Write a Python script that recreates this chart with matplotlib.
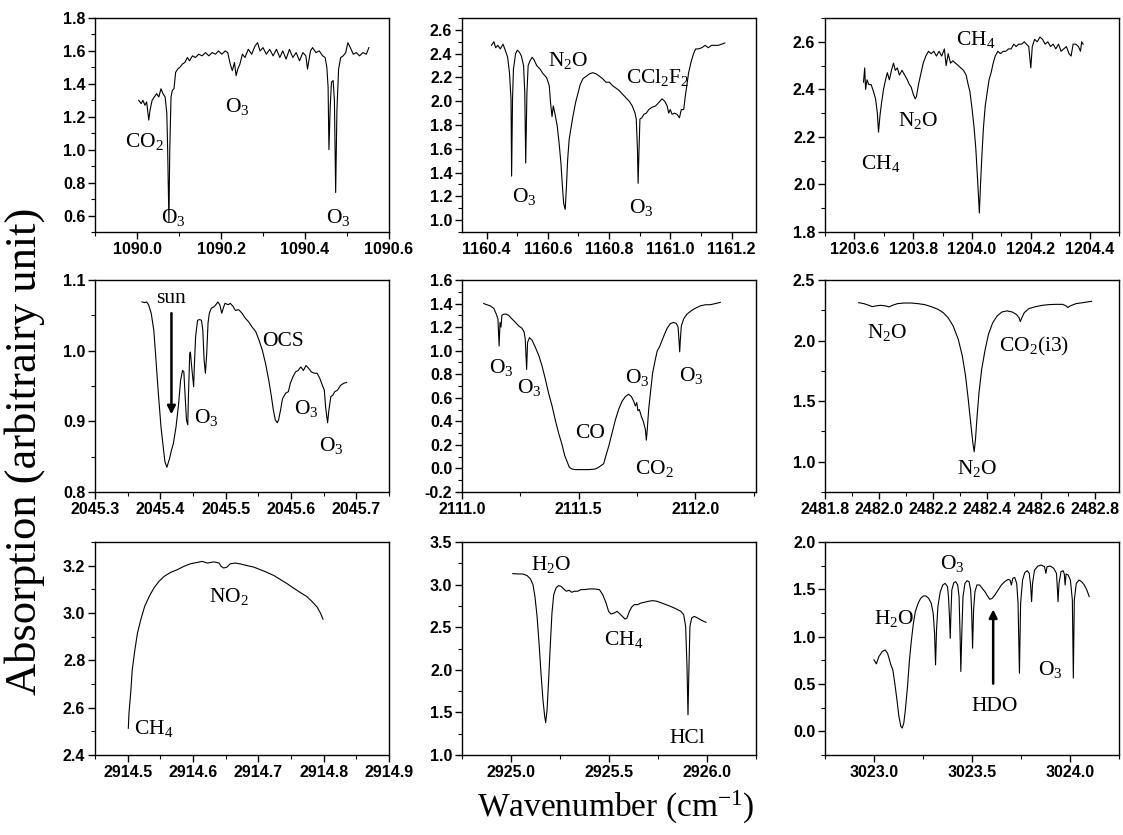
import numpy as np
import matplotlib
matplotlib.use("Agg")
import matplotlib.pyplot as plt
from matplotlib.ticker import MultipleLocator, AutoMinorLocator, FormatStrFormatter

# ---- spectra (wavenumber, absorption) ----
spec_1090 = np.array([
    [1090.004, 1.30], [1090.010, 1.28], [1090.014, 1.30], [1090.019, 1.27], [1090.023, 1.29],
    [1090.028, 1.18], [1090.031, 1.24], [1090.036, 1.30], [1090.041, 1.32], [1090.047, 1.34],
    [1090.052, 1.32], [1090.057, 1.37], [1090.062, 1.34], [1090.067, 1.32], [1090.071, 1.22],
    [1090.073, 1.00], [1090.076, 0.56], [1090.078, 1.00], [1090.081, 1.32], [1090.084, 1.36],
    [1090.088, 1.37], [1090.092, 1.47], [1090.097, 1.49], [1090.102, 1.50], [1090.108, 1.52],
    [1090.114, 1.53], [1090.120, 1.56], [1090.125, 1.54], [1090.132, 1.57], [1090.139, 1.56],
    [1090.147, 1.58], [1090.155, 1.57], [1090.163, 1.59], [1090.171, 1.57], [1090.179, 1.59],
    [1090.187, 1.58], [1090.194, 1.60], [1090.202, 1.58], [1090.210, 1.60], [1090.216, 1.59],
    [1090.222, 1.52], [1090.227, 1.48], [1090.232, 1.53], [1090.236, 1.45], [1090.240, 1.49],
    [1090.245, 1.52], [1090.251, 1.58], [1090.257, 1.56], [1090.265, 1.61], [1090.273, 1.58],
    [1090.281, 1.63], [1090.287, 1.65], [1090.293, 1.60], [1090.300, 1.62], [1090.308, 1.58],
    [1090.316, 1.61], [1090.324, 1.57], [1090.332, 1.61], [1090.340, 1.56], [1090.347, 1.60],
    [1090.355, 1.55], [1090.363, 1.61], [1090.371, 1.56], [1090.379, 1.59], [1090.387, 1.54],
    [1090.395, 1.59], [1090.402, 1.57], [1090.406, 1.49], [1090.413, 1.60], [1090.418, 1.62],
    [1090.426, 1.59], [1090.434, 1.60], [1090.442, 1.57], [1090.448, 1.56], [1090.452, 1.50],
    [1090.455, 1.38], [1090.457, 1.00], [1090.460, 1.26], [1090.463, 1.41], [1090.467, 1.42],
    [1090.470, 1.30], [1090.473, 0.74], [1090.476, 1.24], [1090.480, 1.49], [1090.485, 1.56],
    [1090.491, 1.57], [1090.497, 1.59], [1090.502, 1.65], [1090.508, 1.62], [1090.515, 1.58],
    [1090.522, 1.59], [1090.530, 1.57], [1090.538, 1.59], [1090.546, 1.58], [1090.552, 1.62],
])

spec_1160 = np.array([
    [1160.416, 2.47], [1160.424, 2.50], [1160.430, 2.45], [1160.437, 2.47], [1160.445, 2.44],
    [1160.454, 2.48], [1160.461, 2.43], [1160.469, 2.37], [1160.475, 2.24], [1160.480, 2.02],
    [1160.482, 1.37], [1160.485, 2.02], [1160.488, 2.27], [1160.495, 2.40], [1160.501, 2.43],
    [1160.508, 2.41], [1160.514, 2.38], [1160.521, 2.30], [1160.525, 2.07], [1160.528, 1.48],
    [1160.532, 2.07], [1160.536, 2.30], [1160.542, 2.34], [1160.549, 2.37], [1160.555, 2.35],
    [1160.564, 2.30], [1160.575, 2.27], [1160.585, 2.23], [1160.596, 2.20], [1160.605, 2.13],
    [1160.609, 1.99], [1160.614, 1.87], [1160.618, 1.96], [1160.624, 1.89], [1160.631, 1.79],
    [1160.637, 1.65], [1160.643, 1.48], [1160.648, 1.28], [1160.652, 1.14], [1160.657, 1.09],
    [1160.661, 1.28], [1160.665, 1.51], [1160.670, 1.68], [1160.675, 1.76], [1160.682, 1.87],
    [1160.691, 1.99], [1160.699, 2.07], [1160.706, 2.14], [1160.715, 2.19], [1160.726, 2.21],
    [1160.736, 2.23], [1160.747, 2.24], [1160.758, 2.23], [1160.769, 2.21], [1160.779, 2.19],
    [1160.790, 2.16], [1160.801, 2.16], [1160.812, 2.13], [1160.823, 2.11], [1160.833, 2.09],
    [1160.844, 2.06], [1160.855, 2.03], [1160.866, 2.00], [1160.876, 1.96], [1160.885, 1.90],
    [1160.889, 1.85], [1160.893, 1.59], [1160.895, 1.31], [1160.898, 1.59], [1160.901, 1.85],
    [1160.907, 1.86], [1160.914, 1.89], [1160.922, 1.90], [1160.930, 1.93], [1160.941, 1.95],
    [1160.952, 1.96], [1160.963, 1.99], [1160.973, 2.02], [1160.982, 2.00], [1160.990, 1.96],
    [1160.995, 1.90], [1161.000, 1.93], [1161.006, 1.89], [1161.014, 1.90], [1161.022, 1.89],
    [1161.030, 1.86], [1161.036, 1.93], [1161.044, 1.93], [1161.049, 2.04], [1161.054, 2.13],
    [1161.060, 2.24], [1161.068, 2.33], [1161.076, 2.40], [1161.083, 2.44], [1161.092, 2.44],
    [1161.103, 2.45], [1161.114, 2.47], [1161.124, 2.45], [1161.135, 2.47], [1161.146, 2.47],
    [1161.157, 2.47], [1161.168, 2.48], [1161.178, 2.49],
])

spec_1204 = np.array([
    [1203.631, 2.43], [1203.635, 2.49], [1203.638, 2.40], [1203.643, 2.44], [1203.649, 2.42],
    [1203.657, 2.42], [1203.665, 2.39], [1203.672, 2.36], [1203.678, 2.30], [1203.682, 2.22],
    [1203.687, 2.29], [1203.692, 2.34], [1203.699, 2.40], [1203.706, 2.44], [1203.712, 2.47],
    [1203.719, 2.44], [1203.726, 2.48], [1203.733, 2.51], [1203.739, 2.48], [1203.746, 2.49],
    [1203.753, 2.46], [1203.762, 2.48], [1203.771, 2.46], [1203.780, 2.44], [1203.787, 2.42],
    [1203.793, 2.41], [1203.800, 2.38], [1203.807, 2.36], [1203.811, 2.37], [1203.818, 2.42],
    [1203.825, 2.46], [1203.834, 2.51], [1203.843, 2.54], [1203.852, 2.56], [1203.861, 2.55],
    [1203.870, 2.56], [1203.879, 2.54], [1203.888, 2.56], [1203.897, 2.54], [1203.906, 2.57],
    [1203.912, 2.50], [1203.919, 2.55], [1203.927, 2.51], [1203.935, 2.52], [1203.944, 2.51],
    [1203.953, 2.50], [1203.962, 2.49], [1203.971, 2.48], [1203.980, 2.46], [1203.987, 2.42],
    [1203.993, 2.39], [1204.000, 2.32], [1204.007, 2.24], [1204.013, 2.15], [1204.019, 2.02],
    [1204.025, 1.88], [1204.029, 2.00], [1204.034, 2.13], [1204.039, 2.24], [1204.045, 2.33],
    [1204.052, 2.39], [1204.058, 2.44], [1204.065, 2.47], [1204.072, 2.51], [1204.079, 2.54],
    [1204.088, 2.56], [1204.097, 2.55], [1204.106, 2.56], [1204.115, 2.56], [1204.124, 2.57],
    [1204.133, 2.57], [1204.142, 2.59], [1204.150, 2.58], [1204.159, 2.59], [1204.169, 2.59],
    [1204.178, 2.60], [1204.185, 2.59], [1204.193, 2.58], [1204.200, 2.49], [1204.205, 2.58],
    [1204.213, 2.61], [1204.222, 2.60], [1204.231, 2.62], [1204.240, 2.61], [1204.249, 2.59],
    [1204.258, 2.60], [1204.267, 2.58], [1204.276, 2.59], [1204.285, 2.57], [1204.294, 2.59],
    [1204.303, 2.56], [1204.312, 2.57], [1204.321, 2.58], [1204.330, 2.55], [1204.337, 2.54],
    [1204.344, 2.59], [1204.353, 2.59], [1204.362, 2.58], [1204.369, 2.56], [1204.373, 2.60],
    [1204.378, 2.59],
])

spec_2045 = np.array([
    [2045.372, 1.069], [2045.376, 1.068], [2045.379, 1.069], [2045.382, 1.065], [2045.386, 1.053],
    [2045.390, 1.029], [2045.393, 0.991], [2045.397, 0.939], [2045.401, 0.892], [2045.405, 0.859],
    [2045.407, 0.843], [2045.410, 0.835], [2045.414, 0.847], [2045.417, 0.859], [2045.420, 0.869],
    [2045.424, 0.892], [2045.428, 0.925], [2045.431, 0.958], [2045.434, 0.972], [2045.436, 0.970],
    [2045.438, 0.935], [2045.440, 0.902], [2045.442, 0.895], [2045.443, 0.935], [2045.445, 0.996],
    [2045.446, 0.998], [2045.448, 0.977], [2045.451, 0.949], [2045.452, 0.977], [2045.454, 1.020],
    [2045.457, 1.043], [2045.460, 1.044], [2045.463, 1.043], [2045.465, 1.029], [2045.467, 0.987],
    [2045.469, 0.968], [2045.471, 0.996], [2045.473, 1.039], [2045.475, 1.053], [2045.478, 1.060],
    [2045.482, 1.062], [2045.485, 1.065], [2045.488, 1.069], [2045.491, 1.065], [2045.494, 1.053],
    [2045.497, 1.062], [2045.499, 1.067], [2045.504, 1.065], [2045.507, 1.067], [2045.511, 1.063],
    [2045.515, 1.057], [2045.520, 1.058], [2045.525, 1.053], [2045.530, 1.046], [2045.535, 1.041],
    [2045.540, 1.034], [2045.546, 1.027], [2045.551, 1.015], [2045.556, 1.001], [2045.561, 0.982],
    [2045.566, 0.958], [2045.570, 0.935], [2045.573, 0.916], [2045.576, 0.902], [2045.579, 0.898],
    [2045.581, 0.902], [2045.584, 0.916], [2045.587, 0.932], [2045.592, 0.940], [2045.596, 0.942],
    [2045.599, 0.954], [2045.603, 0.963], [2045.607, 0.970], [2045.611, 0.972], [2045.615, 0.977],
    [2045.619, 0.972], [2045.623, 0.979], [2045.627, 0.975], [2045.631, 0.970], [2045.636, 0.968],
    [2045.640, 0.968], [2045.644, 0.961], [2045.648, 0.951], [2045.651, 0.944], [2045.653, 0.920],
    [2045.656, 0.898], [2045.658, 0.916], [2045.661, 0.935], [2045.664, 0.937], [2045.667, 0.942],
    [2045.671, 0.944], [2045.676, 0.951], [2045.681, 0.954], [2045.685, 0.955],
])

spec_2111 = np.array([
    [2111.093, 1.40], [2111.107, 1.39], [2111.121, 1.38], [2111.136, 1.36], [2111.147, 1.31],
    [2111.154, 1.27], [2111.159, 1.04], [2111.163, 1.24], [2111.167, 1.20], [2111.171, 1.30],
    [2111.179, 1.31], [2111.189, 1.31], [2111.200, 1.30], [2111.214, 1.27], [2111.229, 1.24],
    [2111.243, 1.21], [2111.257, 1.19], [2111.266, 1.16], [2111.271, 1.10], [2111.277, 0.84],
    [2111.281, 1.07], [2111.289, 1.11], [2111.300, 1.09], [2111.314, 1.03], [2111.329, 0.96],
    [2111.343, 0.87], [2111.357, 0.76], [2111.371, 0.64], [2111.386, 0.53], [2111.400, 0.41],
    [2111.414, 0.30], [2111.429, 0.20], [2111.440, 0.11], [2111.450, 0.06], [2111.460, 0.01],
    [2111.471, -0.005], [2111.486, -0.01], [2111.514, -0.01], [2111.543, -0.01], [2111.571, -0.005],
    [2111.586, 0.01], [2111.600, 0.03], [2111.607, 0.04], [2111.617, 0.11], [2111.629, 0.19],
    [2111.643, 0.30], [2111.657, 0.41], [2111.671, 0.50], [2111.686, 0.57], [2111.700, 0.61],
    [2111.714, 0.63], [2111.726, 0.61], [2111.736, 0.57], [2111.743, 0.53], [2111.749, 0.56],
    [2111.754, 0.49], [2111.760, 0.50], [2111.769, 0.44], [2111.777, 0.40], [2111.786, 0.33],
    [2111.790, 0.24], [2111.794, 0.33], [2111.800, 0.50], [2111.809, 0.67], [2111.817, 0.81],
    [2111.829, 0.93], [2111.837, 1.00], [2111.846, 1.03], [2111.854, 1.07], [2111.866, 1.13],
    [2111.879, 1.19], [2111.893, 1.23], [2111.907, 1.24], [2111.919, 1.23], [2111.926, 1.20],
    [2111.930, 1.09], [2111.933, 0.99], [2111.936, 1.10], [2111.940, 1.21], [2111.950, 1.27],
    [2111.964, 1.31], [2111.983, 1.34], [2112.000, 1.36], [2112.021, 1.38], [2112.043, 1.39],
    [2112.064, 1.39], [2112.086, 1.40], [2112.107, 1.41],
])

spec_2482 = np.array([
    [2481.925, 2.313], [2481.944, 2.305], [2481.963, 2.291], [2481.975, 2.280], [2481.988, 2.286],
    [2482.006, 2.291], [2482.025, 2.286], [2482.038, 2.278], [2482.050, 2.291], [2482.069, 2.305],
    [2482.094, 2.310], [2482.119, 2.310], [2482.144, 2.305], [2482.169, 2.297], [2482.194, 2.280],
    [2482.219, 2.258], [2482.238, 2.231], [2482.256, 2.190], [2482.275, 2.121], [2482.294, 2.011],
    [2482.309, 1.874], [2482.321, 1.709], [2482.331, 1.517], [2482.340, 1.324], [2482.348, 1.159],
    [2482.353, 1.082], [2482.358, 1.187], [2482.364, 1.379], [2482.371, 1.572], [2482.381, 1.764],
    [2482.394, 1.929], [2482.406, 2.052], [2482.421, 2.143], [2482.438, 2.203], [2482.456, 2.236],
    [2482.475, 2.245], [2482.494, 2.236], [2482.509, 2.217], [2482.519, 2.190], [2482.524, 2.157],
    [2482.530, 2.190], [2482.539, 2.231], [2482.556, 2.264], [2482.581, 2.280], [2482.606, 2.291],
    [2482.631, 2.297], [2482.656, 2.299], [2482.681, 2.299], [2482.694, 2.286], [2482.700, 2.272],
    [2482.709, 2.286], [2482.731, 2.305], [2482.756, 2.313], [2482.788, 2.324],
])

spec_2914 = np.array([
    [2914.501, 2.513], [2914.502, 2.576], [2914.505, 2.675], [2914.507, 2.760], [2914.511, 2.844],
    [2914.515, 2.915], [2914.520, 2.971], [2914.526, 3.028], [2914.533, 3.070], [2914.540, 3.105],
    [2914.548, 3.134], [2914.556, 3.155], [2914.566, 3.172], [2914.576, 3.183], [2914.586, 3.197],
    [2914.596, 3.208], [2914.607, 3.214], [2914.614, 3.218], [2914.622, 3.211], [2914.632, 3.216],
    [2914.640, 3.211], [2914.643, 3.197], [2914.647, 3.190], [2914.652, 3.194], [2914.657, 3.208],
    [2914.665, 3.211], [2914.673, 3.207], [2914.683, 3.200], [2914.693, 3.194], [2914.703, 3.183],
    [2914.713, 3.172], [2914.724, 3.158], [2914.734, 3.141], [2914.744, 3.124], [2914.754, 3.105],
    [2914.764, 3.087], [2914.774, 3.070], [2914.782, 3.049], [2914.790, 3.025], [2914.795, 3.000],
    [2914.799, 2.974],
])

spec_2925 = np.array([
    [2925.009, 3.129], [2925.034, 3.125], [2925.060, 3.125], [2925.082, 3.106], [2925.099, 3.067],
    [2925.112, 3.000], [2925.122, 2.863], [2925.133, 2.627], [2925.143, 2.314], [2925.153, 1.961],
    [2925.163, 1.647], [2925.172, 1.451], [2925.177, 1.380], [2925.184, 1.529], [2925.192, 1.882],
    [2925.201, 2.314], [2925.209, 2.667], [2925.218, 2.882], [2925.230, 2.961], [2925.242, 2.988],
    [2925.255, 2.980], [2925.269, 2.949], [2925.282, 2.922], [2925.296, 2.933], [2925.310, 2.910],
    [2925.323, 2.922], [2925.340, 2.922], [2925.357, 2.941], [2925.374, 2.941], [2925.400, 2.949],
    [2925.425, 2.949], [2925.451, 2.941], [2925.468, 2.882], [2925.485, 2.784], [2925.498, 2.686],
    [2925.510, 2.655], [2925.527, 2.667], [2925.541, 2.686], [2925.554, 2.659], [2925.568, 2.627],
    [2925.582, 2.596], [2925.592, 2.608], [2925.604, 2.686], [2925.616, 2.737], [2925.629, 2.765],
    [2925.646, 2.765], [2925.663, 2.784], [2925.680, 2.792], [2925.701, 2.804], [2925.723, 2.812],
    [2925.745, 2.804], [2925.769, 2.784], [2925.791, 2.765], [2925.813, 2.745], [2925.833, 2.725],
    [2925.850, 2.706], [2925.867, 2.686], [2925.881, 2.647], [2925.891, 2.510], [2925.898, 2.039],
    [2925.903, 1.471], [2925.908, 2.039], [2925.913, 2.510], [2925.922, 2.608], [2925.935, 2.627],
    [2925.952, 2.608], [2925.973, 2.580], [2925.995, 2.557],
])

spec_3023 = np.array([
    [3023.000, 0.755], [3023.012, 0.713], [3023.025, 0.790], [3023.042, 0.843], [3023.056, 0.860],
    [3023.069, 0.825], [3023.079, 0.755], [3023.086, 0.702], [3023.096, 0.650], [3023.106, 0.509],
    [3023.117, 0.333], [3023.127, 0.158], [3023.137, 0.052], [3023.144, 0.035], [3023.152, 0.087],
    [3023.160, 0.228], [3023.171, 0.474], [3023.181, 0.755], [3023.191, 0.966], [3023.201, 1.142],
    [3023.211, 1.265], [3023.225, 1.352], [3023.238, 1.405], [3023.252, 1.430], [3023.265, 1.430],
    [3023.279, 1.405], [3023.292, 1.352], [3023.302, 1.247], [3023.309, 1.036], [3023.314, 0.702],
    [3023.319, 1.071], [3023.326, 1.317], [3023.338, 1.475], [3023.351, 1.546], [3023.363, 1.563],
    [3023.375, 1.528], [3023.380, 1.423], [3023.385, 1.212], [3023.389, 0.983], [3023.392, 1.212],
    [3023.397, 1.493], [3023.407, 1.570], [3023.417, 1.581], [3023.427, 1.546], [3023.434, 1.423],
    [3023.439, 1.036], [3023.443, 0.632], [3023.448, 1.036], [3023.454, 1.423], [3023.464, 1.563],
    [3023.475, 1.591], [3023.485, 1.581], [3023.493, 1.493], [3023.498, 1.282], [3023.503, 0.878],
    [3023.508, 1.282], [3023.515, 1.475], [3023.525, 1.546], [3023.539, 1.546], [3023.552, 1.511],
    [3023.566, 1.475], [3023.579, 1.430], [3023.591, 1.395], [3023.603, 1.405], [3023.617, 1.440],
    [3023.633, 1.493], [3023.650, 1.546], [3023.667, 1.581], [3023.684, 1.605], [3023.694, 1.598],
    [3023.701, 1.546], [3023.708, 1.616], [3023.718, 1.626], [3023.728, 1.563], [3023.735, 1.352],
    [3023.742, 0.615], [3023.748, 1.352], [3023.758, 1.598], [3023.769, 1.676], [3023.782, 1.697],
    [3023.792, 1.669], [3023.799, 1.546], [3023.804, 1.370], [3023.809, 1.563], [3023.819, 1.704],
    [3023.836, 1.746], [3023.853, 1.757], [3023.870, 1.739], [3023.877, 1.669], [3023.883, 1.739],
    [3023.900, 1.746], [3023.917, 1.721], [3023.931, 1.669], [3023.936, 1.493], [3023.939, 1.370],
    [3023.944, 1.563], [3023.954, 1.686], [3023.965, 1.697], [3023.971, 1.662], [3023.975, 1.546],
    [3023.980, 1.662], [3023.991, 1.651], [3024.002, 1.598], [3024.012, 1.388], [3024.017, 0.562],
    [3024.022, 1.388], [3024.032, 1.563], [3024.046, 1.598], [3024.059, 1.581], [3024.073, 1.546],
    [3024.086, 1.493], [3024.098, 1.423],
])

# species labels: (text, x, y) in data units of each panel
labels_1090 = [("CO$_2$", 1089.972, 1.05), ("O$_3$", 1090.057, 0.59),
               ("O$_3$", 1090.21, 1.265), ("O$_3$", 1090.45, 0.59)]
labels_1160 = [("O$_3$", 1160.483, 1.20), ("N$_2$O", 1160.602, 2.34),
               ("CCl$_2$F$_2$", 1160.857, 2.20), ("O$_3$", 1160.866, 1.11)]
labels_1204 = [("CH$_4$", 1203.944, 2.61), ("N$_2$O", 1203.747, 2.27), ("CH$_4$", 1203.624, 2.09)]
labels_2045 = [("O$_3$", 2045.452, 0.906), ("OCS", 2045.556, 1.013),
               ("O$_3$", 2045.604, 0.918), ("O$_3$", 2045.643, 0.866)]
labels_2111 = [("O$_3$", 2111.114, 0.857), ("O$_3$", 2111.236, 0.686), ("CO", 2111.486, 0.30),
               ("O$_3$", 2111.700, 0.771), ("O$_3$", 2111.929, 0.786), ("CO$_2$", 2111.743, 0.0)]
labels_2482 = [("N$_2$O", 2481.954, 2.066), ("CO$_2$(i3)", 2482.446, 1.95), ("N$_2$O", 2482.288, 0.94)]
labels_2914 = [("NO$_2$", 2914.624, 3.070), ("CH$_4$", 2914.509, 2.513)]
labels_2925 = [("H$_2$O", 2925.102, 3.235), ("CH$_4$", 2925.473, 2.353), ("HCl", 2925.808, 1.196)]
labels_3023 = [("H$_2$O", 3023.0, 1.194), ("O$_3$", 3023.338, 1.774),
               ("O$_3$", 3023.836, 0.650), ("HDO", 3023.498, 0.263)]

plt.rcParams["font.family"] = "Liberation Sans"
plt.rcParams["font.weight"] = "bold"
plt.rcParams["mathtext.default"] = "regular"

W, H = 1123, 835
fig = plt.figure(figsize=(W / 100, H / 100), dpi=100)

col_left = [95, 462, 825]
col_width = 294
rows = [(18, 232), (280, 492), (542, 755)]

panels = [
    (spec_1090, labels_1090, (1089.9, 1090.6), (0.5, 1.8), 0.2, 0.2),
    (spec_1160, labels_1160, (1160.32, 1161.28), (0.9, 2.7), 0.2, 0.2),
    (spec_1204, labels_1204, (1203.5, 1204.5), (1.8, 2.7), 0.2, 0.2),
    (spec_2045, labels_2045, (2045.3, 2045.75), (0.8, 1.1), 0.1, 0.1),
    (spec_2111, labels_2111, (2111.0, 2112.26), (-0.2, 1.6), 0.5, 0.2),
    (spec_2482, labels_2482, (2481.8, 2482.89), (0.75, 2.5), 0.2, 0.5),
    (spec_2914, labels_2914, (2914.45, 2914.9), (2.4, 3.3), 0.1, 0.2),
    (spec_2925, labels_2925, (2924.75, 2926.25), (1.0, 3.5), 0.5, 0.5),
    (spec_3023, labels_3023, (3022.75, 3024.25), (-0.25, 2.0), 0.5, 0.5),
]

serif = dict(family="Liberation Serif", weight="normal", size=15.5)
axes = []
for i, (spec, labs, xlim, ylim, xstep, ystep) in enumerate(panels):
    r, c = divmod(i, 3)
    top, bot = rows[r]
    ax = fig.add_axes([col_left[c] / W, 1 - bot / H, col_width / W, (bot - top) / H])
    ax.plot(spec[:, 0], spec[:, 1], color="black", lw=0.8)
    ax.set_xlim(*xlim)
    ax.set_ylim(*ylim)
    ax.xaxis.set_major_locator(MultipleLocator(xstep))
    ax.yaxis.set_major_locator(MultipleLocator(ystep))
    ax.xaxis.set_minor_locator(AutoMinorLocator(2))
    ax.yaxis.set_minor_locator(AutoMinorLocator(2))
    ax.xaxis.set_major_formatter(FormatStrFormatter("%.1f"))
    ax.yaxis.set_major_formatter(FormatStrFormatter("%.1f"))
    ax.tick_params(which="major", direction="out", length=5, width=1, labelsize=11.5, pad=2)
    ax.tick_params(which="minor", direction="out", length=3, width=0.8)
    for s in ax.spines.values():
        s.set_linewidth(1.0)
    for text, tx, ty in labs:
        ax.text(tx, ty, text, ha="left", va="center", **serif)
    axes.append(ax)

# arrows
ax4 = axes[3]
ax4.text(2045.417, 1.074, "sun", ha="center", va="center", **serif)
ax4.annotate("", xy=(2045.417, 0.906), xytext=(2045.417, 1.057),
             arrowprops=dict(arrowstyle="-|>", color="black", lw=1.8, mutation_scale=12))
ax9 = axes[8]
ax9.annotate("", xy=(3023.608, 1.317), xytext=(3023.608, 0.474),
             arrowprops=dict(arrowstyle="-|>", color="black", lw=1.8, mutation_scale=12))

fig.text(0.022, 0.46, "Absorption (arbitrairy unit)", rotation=90, ha="center", va="center",
         family="Liberation Serif", weight="normal", size=32)
fig.text(0.548, 0.033, "Wavenumber (cm$^{-1}$)", ha="center", va="center",
         family="Liberation Serif", weight="normal", size=24)

fig.savefig("out.png", dpi=100)
